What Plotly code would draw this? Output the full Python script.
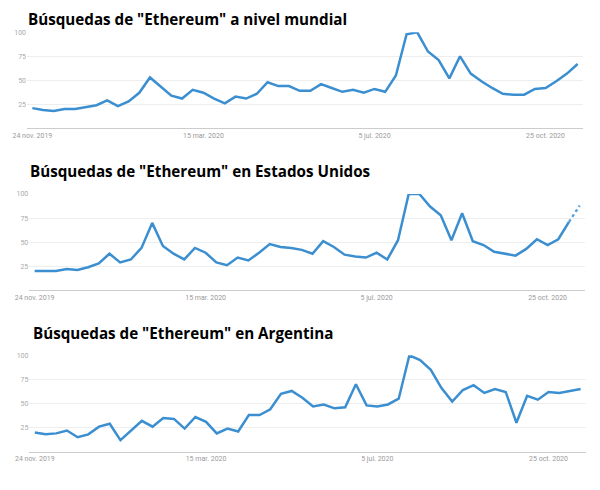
import pandas as pd
import plotly.graph_objects as go

# Weekly Google Trends interest for "Ethereum" (24 nov 2019 -> 15 nov 2020)
weeks = pd.date_range('2019-11-24', periods=52, freq='7D')

mundial = [21, 19, 18, 20, 20, 22, 24, 29, 23, 28, 37, 53, 44, 34, 31, 40, 37, 31, 26, 33,
           31, 36, 48, 44, 44, 39, 39, 46, 42, 38, 40, 37, 41, 38, 55, 98, 100, 80, 71, 52,
           75, 57, 49, 42, 36, 35, 35, 41, 42, 49, 57, 67]
estados_unidos = [20, 20, 20, 22, 21, 24, 28, 38, 29, 32, 44, 70, 46, 38, 32, 44, 39, 29, 26, 34,
                  31, 39, 48, 45, 44, 42, 38, 51, 45, 37, 35, 34, 39, 32, 52, 100, 100, 87, 78, 52,
                  80, 51, 47, 40, 38, 36, 43, 53, 47, 53, 71, 88]
argentina = [20, 18, 19, 22, 15, 18, 26, 29, 12, 22, 32, 26, 35, 34, 24, 36, 31, 19, 24, 21,
             38, 38, 44, 60, 63, 56, 47, 49, 45, 46, 70, 48, 47, 49, 55, 100, 95, 85, 66, 52,
             64, 69, 61, 65, 62, 30, 58, 54, 62, 61, 63, 65]

titles = ['Búsquedas de "Ethereum" a nivel mundial',
          'Búsquedas de "Ethereum" en Estados Unidos',
          'Búsquedas de "Ethereum" en Argentina']
tick_dates = ['2019-11-24', '2020-03-15', '2020-07-05', '2020-10-25']
tick_labels = ['24 nov. 2019', '15 mar. 2020', '5 jul. 2020', '25 oct. 2020']
y_ticks = [25, 50, 75, 100]

LINE = '#3b8fd0'

fig = go.Figure()

# solid lines (US last week is partial -> dotted)
fig.add_trace(go.Scatter(x=weeks, y=mundial, mode='lines', line=dict(color=LINE, width=2.5),
                         xaxis='x', yaxis='y'))
fig.add_trace(go.Scatter(x=weeks[:51], y=estados_unidos[:51], mode='lines',
                         line=dict(color=LINE, width=2.5), xaxis='x2', yaxis='y2'))
fig.add_trace(go.Scatter(x=weeks[50:], y=estados_unidos[50:], mode='lines',
                         line=dict(color='#5da4dc', width=2.5, dash='dot'), xaxis='x2', yaxis='y2'))
fig.add_trace(go.Scatter(x=weeks, y=argentina, mode='lines', line=dict(color=LINE, width=2.5),
                         xaxis='x3', yaxis='y3'))

# page body has an 8px margin, so everything is placed 8px up/left
x_domains = [[0.0317, 0.9583], [0.0355, 0.9617], [0.0358, 0.9633]]
y_domains = [[0.7545, 0.9504], [0.4239, 0.6204], [0.0945, 0.2912]]
title_y = [0, 152, 314]   # top of the title box, px
title_x = [19, 21, 24]

layout = dict(
    width=600, height=490,
    margin=dict(l=0, r=0, t=0, b=0, autoexpand=False),
    paper_bgcolor='white', plot_bgcolor='white',
    showlegend=False,
    font=dict(family='Roboto', color='#9a9a9a'),
)
for i in range(3):
    suffix = '' if i == 0 else str(i + 1)
    layout['xaxis' + suffix] = dict(
        domain=x_domains[i], anchor='y' + suffix, automargin=False,
        range=['2019-11-20 12:00', '2020-11-18 12:00'],
        tickvals=tick_dates, ticktext=tick_labels,
        tickfont=dict(size=7, color='#9a9a9a'),
        showgrid=False, zeroline=False, ticks='',
        showline=True, linecolor='#cccccc', linewidth=1,
    )
    layout['yaxis' + suffix] = dict(
        domain=y_domains[i], anchor='x' + suffix, automargin=False,
        range=[0, 100], tickvals=y_ticks,
        tickfont=dict(size=7, color='#aaaaaa'),
        showgrid=True, gridcolor='#eeeeee', gridwidth=1,
        zeroline=False, showline=False, ticks='',
    )
fig.update_layout(**layout)

for i in range(3):
    fig.add_annotation(text='<b>' + titles[i] + '</b>', xref='paper', yref='paper',
                       x=title_x[i] / 600, y=1 - title_y[i] / 490,
                       xanchor='left', yanchor='top', showarrow=False, borderpad=0,
                       font=dict(family='Open Sans', size=15.2, color='black'))

fig.write_html('out.html')
